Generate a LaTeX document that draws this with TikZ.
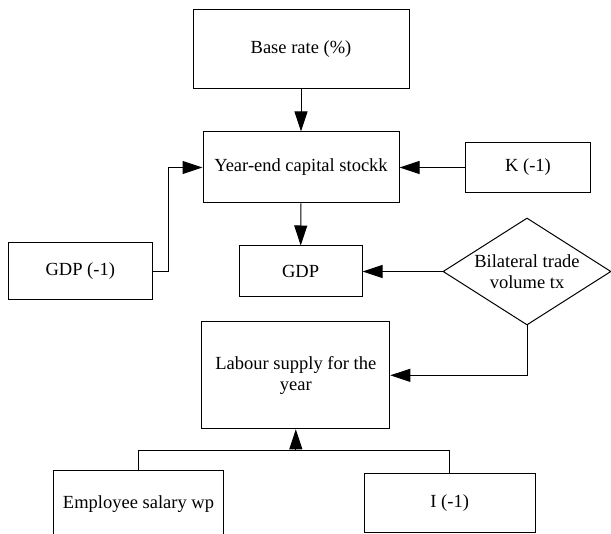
\documentclass[tikz,border=0pt]{standalone}
\usepackage{fontspec}
\setmainfont{Liberation Serif}
\usetikzlibrary{arrows.meta,shapes.geometric}

\tikzset{
    box/.style = {draw, line width=1pt, inner sep=0pt, align=center},
    link/.style = {line width=1pt, -{Triangle[length=20pt,width=13pt]}},
    joint/.style = {line width=1pt}
}

\begin{document}
\begin{tikzpicture}[x=1pt, y=-1pt, font=\fontsize{18.5}{21.5}\selectfont]
    % Page
    \fill[white] (0,0) rectangle (611,534);
    \useasboundingbox (0,0) rectangle (611,534);

    % Boxes
    \node[box, minimum width=216, minimum height=79] (base) at (301,49) {Base rate (\%)};
    \node[box, minimum width=196, minimum height=71] (stock) at (301,167.5) {Year-end capital stockk};
    \node[box, minimum width=125, minimum height=50] (klag) at (528,167.5) {K (-1)};
    \node[box, minimum width=144, minimum height=57] (gdplag) at (80.3,271.3) {GDP (-1)};
    \node[box, minimum width=123, minimum height=51] (gdp) at (300.6,271.5) {GDP};
    \node[box, diamond, aspect=1.57, minimum width=168, minimum height=107] (trade) at (527,271.5) {Bilateral trade\\volume tx};
    \node[box, minimum width=188, minimum height=107] (labour) at (295.8,375.3) {Labour supply for the\\year};
    \node[box, minimum width=170, minimum height=66] (wage) at (138.5,504) {Employee salary wp};
    \node[box, minimum width=171, minimum height=59] (ilag) at (449.7,503.2) {I (-1)};

    % Arrows
    \draw[link] (base) -- (stock);
    \draw[link] (stock) -- (gdp);
    \draw[link] (klag) -- (stock);
    \draw[link] (gdplag.east) -- ++(16,0) |- (stock.west);
    \draw[link] (trade.west) -- (gdp.east);
    \draw[link] (trade.south) |- (labour.east);

    % Joint into labour supply
    \coordinate (join) at (295.8,450.5);
    \draw[joint] (wage.north) |- (join) -| (ilag.north);
    \draw[link] (join) -- (labour.south);
\end{tikzpicture}
\end{document}
